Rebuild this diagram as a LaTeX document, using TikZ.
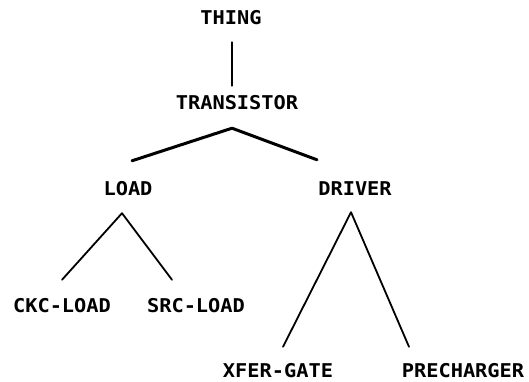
\documentclass[tikz,border=0pt]{standalone}
\usepackage{fontspec}
\usetikzlibrary{calc}
\newfontfamily\termfont[FakeStretch=1.07]{DejaVu Sans Mono}
\begin{document}
\begin{tikzpicture}[x=1pt,y=1pt,
  label/.style={inner sep=0pt, anchor=base, text height=14pt, text depth=0pt,
                font=\termfont\bfseries\fontsize{19pt}{19pt}\selectfont},
  branch/.style={line width=1.8pt, line cap=round, line join=round},
  trunk/.style={line width=3pt, line cap=round, line join=round}]
\useasboundingbox (0,0) rectangle (529,-382);

% class names
\node[label] (thing)  at (231,-25)  {THING};
\node[label] (trans)  at (237,-110) {TRANSISTOR};
\node[label] (load)   at (128,-195) {LOAD};
\node[label] (driver) at (355,-195) {DRIVER};
\node[label] (ckc)    at (62,-312)  {CKC-LOAD};
\node[label] (src)    at (196,-312) {SRC-LOAD};
\node[label] (xfer)   at (278,-377) {XFER-GATE};
\node[label] (prech)  at (463,-377) {PRECHARGER};

% THING -> TRANSISTOR
\draw[branch] ($(thing.south)+(1,-17)$) -- ($(trans.north)+(-5,10)$);

% TRANSISTOR -> LOAD, DRIVER
\draw[trunk] ($(load.north)+(4,20)$) -- ($(trans.south)+(-5,-18)$)
             -- ($(driver.north)+(-38,21)$);

% LOAD -> CKC-LOAD, SRC-LOAD
\draw[branch] ($(ckc.north)+(0,18)$) -- ($(load.south)+(-6,-18)$)
              -- ($(src.north)+(-24,18)$);

% DRIVER -> XFER-GATE, PRECHARGER
\draw[branch] ($(xfer.north)+(5,16)$) -- ($(driver.south)+(-4,-17)$)
              -- ($(prech.north)+(-54,16)$);
\end{tikzpicture}
\end{document}
